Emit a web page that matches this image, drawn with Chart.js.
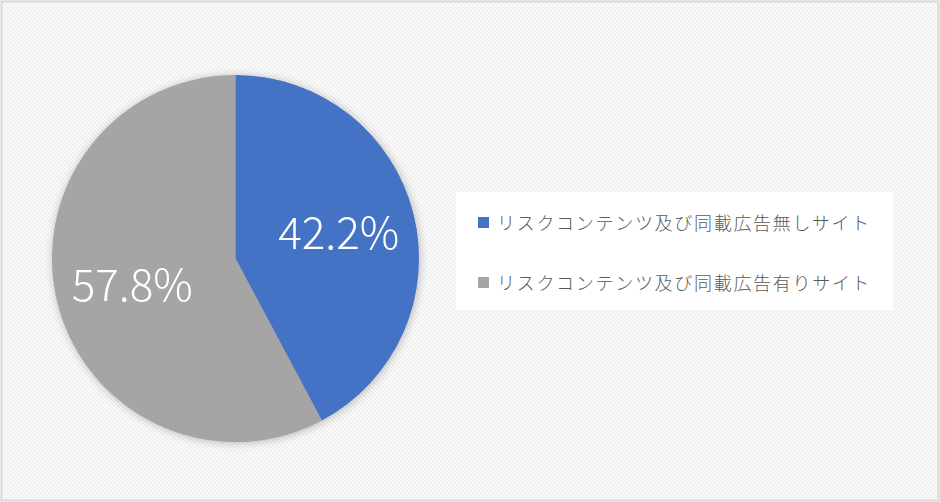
<!DOCTYPE html>
<html><head><meta charset="utf-8">
<script src="https://cdn.jsdelivr.net/npm/chart.js@4.4.1/dist/chart.umd.min.js"></script>
<style>
html,body{margin:0;padding:0;width:940px;height:502px;overflow:hidden;background:#fff;}
#wrap{position:relative;width:940px;height:502px;}
canvas{position:absolute;left:0;top:0;}
#legend{position:absolute;left:456px;top:192px;width:437px;height:118px;background:#fff;box-sizing:border-box;}
.item{position:absolute;left:22px;height:24px;display:flex;align-items:center;font-family:"Noto Sans CJK JP","Noto Sans",sans-serif;font-weight:300;font-size:18px;letter-spacing:1.7px;color:#595959;white-space:nowrap;}
.sw{width:11px;height:11px;margin-right:8px;flex:none;}
</style></head>
<body><div id="wrap"><canvas id="c" width="940" height="502"></canvas><div id="legend"></div></div>
<script>
const categories = ["リスクコンテンツ及び同載広告無しサイト","リスクコンテンツ及び同載広告有りサイト"];
const values = [42.2, 57.8];
const valueLabels = ["42.2%","57.8%"];
const colors = ["#4472C4","#A5A5A5"];

// HTML legend
const lg = document.getElementById('legend');
categories.forEach((c,i)=>{
  const d=document.createElement('div');d.className='item';d.style.top=(18+i*60)+'px';
  d.innerHTML='<span class="sw" style="background:'+colors[i]+'"></span><span></span>';
  d.lastChild.textContent=c;lg.appendChild(d);
});

const bgPlugin={id:'bg',beforeDraw(chart){
  const ctx=chart.ctx;ctx.save();
  ctx.fillStyle='#ffffff';ctx.fillRect(0,0,940,502);
  ctx.strokeStyle='#eeeeee';ctx.lineWidth=1.6;
  for(let k=-600;k<1500;k+=4){ctx.beginPath();ctx.moveTo(k,0);ctx.lineTo(k+502,502);ctx.stroke();}
  ctx.strokeStyle='#d9d9d9';ctx.lineWidth=2;ctx.strokeRect(1.5,1.5,937,499);
  ctx.restore();
},
beforeDatasetsDraw(chart){
  const ctx=chart.ctx;const a=chart.getDatasetMeta(0).data[0];
  ctx.save();ctx.shadowColor='rgba(0,0,0,0.28)';ctx.shadowBlur=10;ctx.shadowOffsetX=1;ctx.shadowOffsetY=1;
  ctx.fillStyle='#a5a5a5';ctx.beginPath();ctx.arc(a.x,a.y,a.outerRadius-0.5,0,Math.PI*2);ctx.fill();ctx.restore();
}};
const labelPlugin={id:'lbl',afterDatasetsDraw(chart){
  const ctx=chart.ctx;ctx.save();
  ctx.fillStyle='#ffffff';ctx.font='300 44px "Noto Sans CJK JP","Noto Sans",sans-serif';
  ctx.textAlign='center';ctx.textBaseline='middle';
  chart.getDatasetMeta(0).data.forEach((arc,i)=>{
    const m=(arc.startAngle+arc.endAngle)/2;const r=arc.outerRadius*0.58;
    ctx.fillText(valueLabels[i],arc.x+Math.cos(m)*r,arc.y+Math.sin(m)*r);
  });ctx.restore();
}};
new Chart(document.getElementById('c'),{
  type:'pie',
  data:{labels:categories,datasets:[{data:values,backgroundColor:colors,borderWidth:0}]},
  options:{responsive:false,animation:false,devicePixelRatio:1,
    layout:{padding:{left:52,right:521,top:75,bottom:60}},
    plugins:{legend:{display:false},tooltip:{enabled:false}}},
  plugins:[bgPlugin,labelPlugin]
});
</script></body></html>
